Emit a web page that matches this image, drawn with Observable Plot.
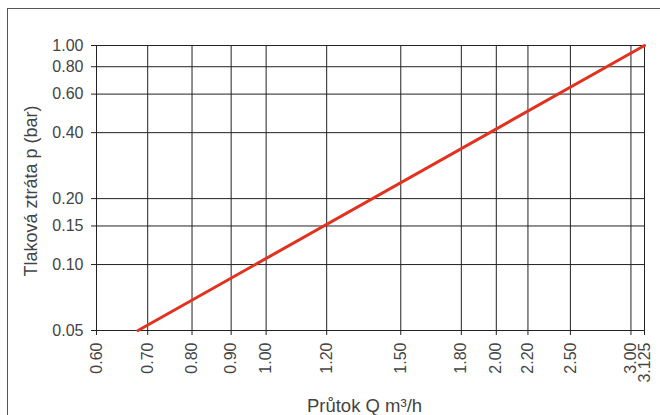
<!DOCTYPE html>
<html><head><meta charset="utf-8">
<script src="https://cdn.jsdelivr.net/npm/d3@7"></script>
<script src="https://cdn.jsdelivr.net/npm/@observablehq/plot@0.6"></script>
<style>
body{margin:0;background:#fff;}
#wrap{position:relative;width:660px;height:415px;overflow:hidden;}
#border{position:absolute;left:7px;top:8px;width:700px;height:500px;border:1px solid #555;box-sizing:border-box;}
#chart{position:absolute;left:0;top:0;}
</style></head><body>
<div id="wrap"><div id="border"></div><div id="chart"></div></div>
<script>
const xTicks = [0.60, 0.70, 0.80, 0.90, 1.00, 1.20, 1.50, 1.80, 2.00, 2.20, 2.50, 3.00, 3.125];
const xTickLabels = ["0.60", "0.70", "0.80", "0.90", "1.00", "1.20", "1.50", "1.80", "2.00", "2.20", "2.50", "3.00", "3.125"];
const yTicks = [0.05, 0.10, 0.15, 0.20, 0.40, 0.60, 0.80, 1.00];
const yTickLabels = ["0.05", "0.10", "0.15", "0.20", "0.40", "0.60", "0.80", "1.00"];
const flow = [0.68, 3.125];
const loss = [0.05, 1.00];
const xTitle = "Průtok Q m³/h";
const yTitle = "Tlaková ztráta p (bar)";

const data = flow.map((q, i) => ({q, p: loss[i]}));
const font = "'Liberation Sans', Arial, sans-serif";

const plot = Plot.plot({
  width: 660, height: 415,
  marginLeft: 96, marginRight: 16, marginTop: 45, marginBottom: 85,
  style: {fontFamily: font, fontSize: "16px", color: "#444", background: "transparent"},
  x: {type: "log", domain: [0.6, 3.125]},
  y: {type: "log", domain: [0.05, 1.0]},
  marks: [
    Plot.ruleX(xTicks, {stroke: "#222", strokeWidth: 1}),
    Plot.ruleY(yTicks, {stroke: "#222", strokeWidth: 1}),
    Plot.axisX(xTicks, {tickFormat: () => "", tickSize: 5, label: null, stroke: "#222"}),
    Plot.axisY(yTicks, {tickFormat: () => "", tickSize: 5, label: null, stroke: "#222"}),
    Plot.text(xTicks, {x: d => d, text: (d, i) => xTickLabels[i], frameAnchor: "bottom", rotate: -90, textAnchor: "end", lineAnchor: "middle", dy: 12, fontSize: 16, fill: "#444"}),
    Plot.text(yTicks, {y: d => d, text: (d, i) => yTickLabels[i], frameAnchor: "left", textAnchor: "end", lineAnchor: "middle", dx: -13, fontSize: 16, fill: "#444"}),
    Plot.line(data, {x: "q", y: "p", stroke: "#e2321f", strokeWidth: 3}),
    Plot.text([xTitle], {frameAnchor: "bottom", lineAnchor: "middle", textAnchor: "middle", dx: -6, dy: 76, fontSize: 18.5, fill: "#444"}),
    Plot.text([yTitle], {frameAnchor: "left", lineAnchor: "middle", textAnchor: "middle", dx: -65, dy: 3, rotate: -90, fontSize: 18, fill: "#444"})
  ]
});
document.getElementById("chart").appendChild(plot);
</script>
</body></html>
